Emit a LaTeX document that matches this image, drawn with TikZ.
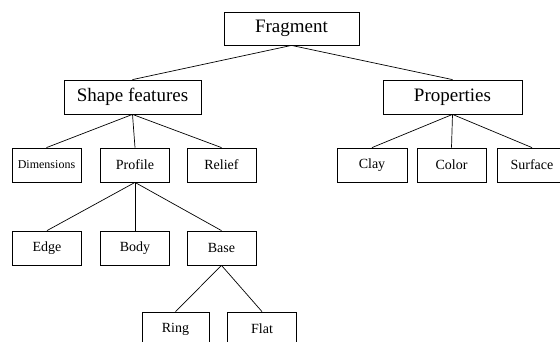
\documentclass[tikz,border=0pt]{standalone}
\usepackage{fontspec}
\setmainfont{Liberation Serif}
\begin{document}
\begin{tikzpicture}[x=1pt,y=-1pt,
  bigbox/.style={draw,line width=0.8pt,minimum width=137pt,minimum height=34pt,inner sep=0pt,font=\fontsize{19}{22}\selectfont},
  smallbox/.style={draw,line width=0.8pt,minimum width=69pt,minimum height=34pt,inner sep=0pt,font=\fontsize{14}{16}\selectfont},
  link/.style={line width=0.7pt}]
\useasboundingbox (0,0) rectangle (560,341);
\node[bigbox,minimum width=135pt,minimum height=33pt] (frag) at (291.5,28.5) {Fragment};
\node[bigbox] (shape) at (132.5,97) {Shape features};
\node[bigbox,minimum width=139pt] (prop) at (452.5,97) {Properties};
\node[smallbox,font=\fontsize{12}{14}\selectfont] (dim) at (46.5,165) {Dimensions};
\node[smallbox] (profile) at (135,165) {Profile};
\node[smallbox] (relief) at (221.5,165) {Relief};
\node[smallbox,minimum width=70pt] (clay) at (372,165) {Clay};
\node[smallbox] (color) at (451.5,165) {Color};
\node[smallbox,minimum width=70pt] (surface) at (532,165) {Surface};
\node[smallbox] (edge) at (47,248) {Edge};
\node[smallbox] (body) at (135,248) {Body};
\node[smallbox] (base) at (221.5,248) {Base};
\node[smallbox,minimum width=67pt] (ring) at (175.5,329) {Ring};
\node[smallbox,minimum width=69pt] (flat) at (262,329) {Flat};
\draw[link] (frag.south) -- (shape.north);
\draw[link] (frag.south) -- (prop.north);
\draw[link] (shape.south) -- (dim.north);
\draw[link] (shape.south) -- (profile.north);
\draw[link] (shape.south) -- (relief.north);
\draw[link] (prop.south) -- (clay.north);
\draw[link] (prop.south) -- (color.north);
\draw[link] (prop.south) -- (surface.north);
\draw[link] (profile.south) -- (edge.north);
\draw[link] (profile.south) -- (body.north);
\draw[link] (profile.south) -- (base.north);
\draw[link] (base.south) -- (ring.north);
\draw[link] (base.south) -- (flat.north);
\end{tikzpicture}
\end{document}
